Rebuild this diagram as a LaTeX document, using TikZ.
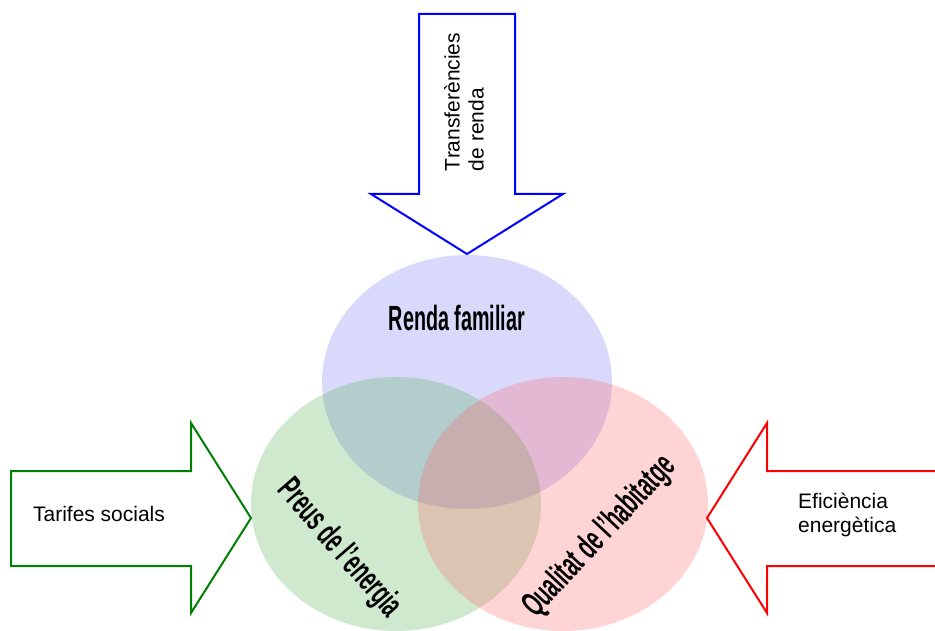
\documentclass[tikz,border=0pt]{standalone}
\usepackage{fontspec}
\setmainfont{Liberation Sans}
\definecolor{rendaset}{RGB}{110,110,245}
\definecolor{preuset}{RGB}{70,170,70}
\definecolor{qualset}{RGB}{255,90,90}
\definecolor{arrowgreen}{RGB}{0,128,0}
\newcommand{\narrowlabel}[1]{\scalebox{0.565}[1]{\bfseries #1}}
\tikzset{
  biglabel/.style={inner sep=0pt, font=\fontsize{35}{40}\selectfont},
  arrowtext/.style={inner sep=0pt, align=left, font=\fontsize{21}{24}\selectfont},
  fatarrow/.style={line width=2pt, line join=miter}
}
\begin{document}
\begin{tikzpicture}[x=1pt,y=-1pt]
\useasboundingbox (0,0) rectangle (935,631);

\foreach \cx/\cy/\col in {467/382/rendaset, 396/504/preuset, 563/504/qualset}
  \fill[\col, fill opacity=0.26] (\cx,\cy) ellipse [x radius=145pt, y radius=127pt];

\node[biglabel] (renda) at (457,318) {\narrowlabel{Renda familiar}};
\node[biglabel, rotate=-49] (preus) at (339,549) {\narrowlabel{Preus de l'energia}};
\node[biglabel, rotate=47] (qualitat) at (600,537) {\narrowlabel{Qualitat de l'habitatge}};

% income transfers, from the top
\draw[fatarrow, blue] (419,14) -- (515,14) -- (515,194) -- (563,194) -- (467,254) -- (371,194) -- (419,194) -- cycle;
\node[arrowtext, rotate=90] (transf) at (464,102) {Transferències\\de renda};

% social tariffs, from the left
\draw[fatarrow, arrowgreen] (11,471) -- (191,471) -- (191,423) -- (251,518) -- (191,613) -- (191,566) -- (11,566) -- cycle;
\node[arrowtext] (tarifes) at (99,514) {Tarifes socials};

% energy efficiency, from the right
\draw[fatarrow, red] (935,471) -- (767,471) -- (767,423) -- (707,518) -- (767,613) -- (767,566) -- (935,566);
\node[arrowtext, anchor=west] (eficiencia) at (798,515) {Eficiència\\energètica};
\end{tikzpicture}
\end{document}
